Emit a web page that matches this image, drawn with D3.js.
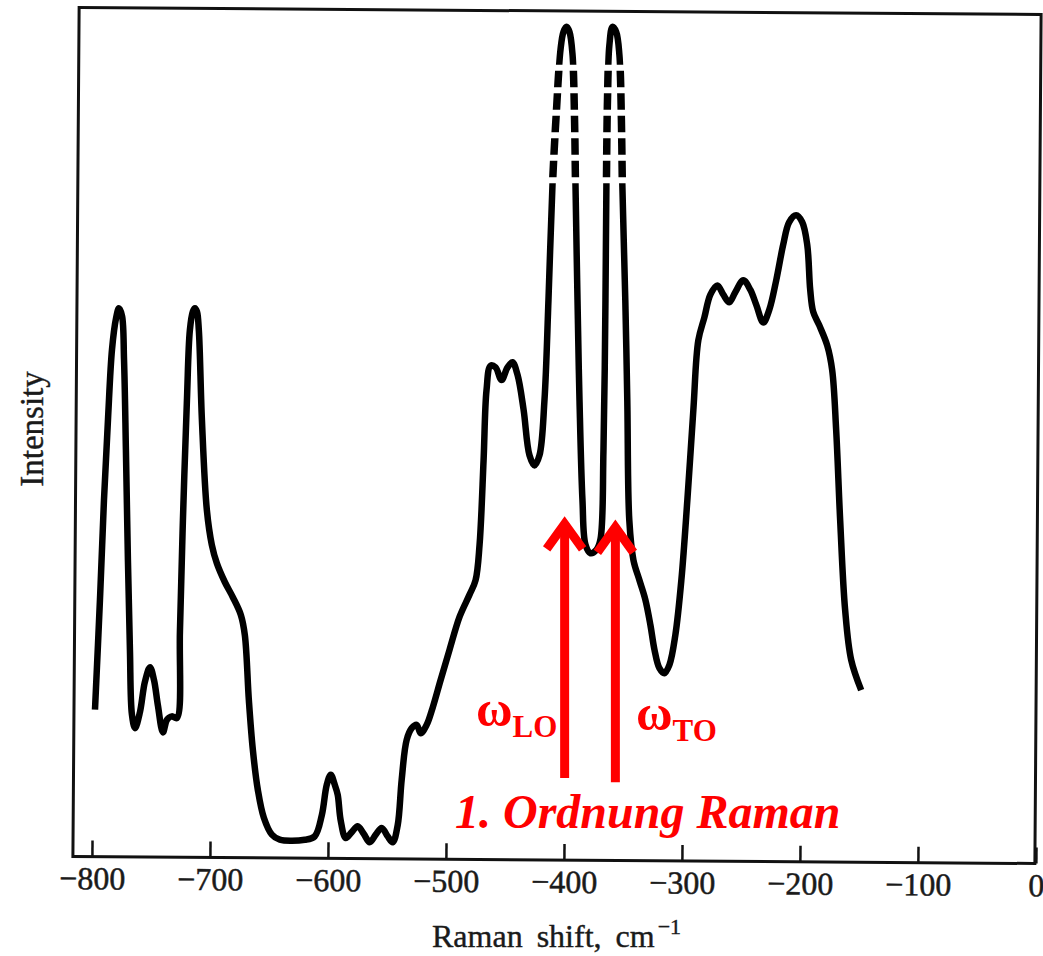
<!DOCTYPE html>
<html lang="de">
<head>
  <meta charset="UTF-8" />
  <title>Raman-Spektrum</title>
  <script src="https://d3js.org/d3.v7.min.js"></script>
  <style>
    body { margin: 0; background: #fff; }
    svg { display: block; background: #fff; }
    .axis text { font-family: "Liberation Serif", serif; font-size: 32px; fill: #1a1a1a; stroke: #1a1a1a; stroke-width: 0.5; }
    .axis line { stroke: #111; stroke-width: 2.5; }
    .label { font-family: "Liberation Serif", serif; fill: #1a1a1a; stroke: #1a1a1a; stroke-width: 0.4; }
    .red-text { font-family: "Liberation Serif", serif; fill: #ff0000; font-weight: bold; }
  </style>
</head>
<body>
  <svg width="1043" height="956"></svg>

  <script>
    // Raman shift (cm^-1) and intensity (arb. units)
    const shift = [
      -800, -795.8, -792.4, -789.0, -785.6, -782.2, -779.7, -777.1, -775.4, -773.8,
      -772.1, -770.4, -768.7, -766.1, -761.9, -757.7, -753.4, -750.0, -746.7, -742.4,
      -739.0, -734.8, -730.6, -728.0, -725.5, -722.1, -719.6, -717.1, -715.3, -713.6,
      -712.0, -709.4, -705.2, -701.0, -696.7, -690.0, -683.2, -676.4, -673.0, -669.6,
      -666.2, -662.0, -656.9, -650.1, -643.4, -622.2, -613.8, -607.8, -603.6, -600.2,
      -596.8, -594.3, -591.8, -587.5, -582.4, -577.4, -572.3, -567.2, -562.1, -557.1,
      -552.0, -547.7, -543.5, -540.1, -535.9, -531.6, -527.4, -524.0, -518.9, -513.9,
      -507.1, -499.5, -491.0, -482.6, -477.5, -474.1, -470.7, -468.2, -464.8, -460.5,
      -455.5, -450.4, -446.2, -441.9, -436.8, -431.8, -427.5, -423.3, -419.1, -415.7,
      -412.3, -408.9, -405.5, -403.0, -400.4, -397.9, -395.3, -393.6, -392.8, -391.1,
      -389.4, -386.9, -384.3, -380.1, -375.1, -371.7, -369.1, -367.4, -366.6, -365.7,
      -364.1, -361.5, -358.3, -355.6, -353.9, -353.1, -350.6, -348.9, -347.2, -343.7,
      -338.6, -333.6, -329.3, -325.9, -321.7, -317.5, -313.2, -308.2, -303.1, -298.0,
      -292.9, -288.7, -283.6, -278.5, -272.6, -267.5, -262.5, -257.4, -250.6, -244.7,
      -239.6, -233.7, -228.6, -222.7, -216.8, -211.7, -205.8, -200.7, -196.4, -193.9,
      -191.4, -186.3, -179.5, -175.3, -171.9, -168.5, -164.3, -159.2, -150.7
    ];
    const intensity = [
      17.8, 30.8, 42.6, 52.1, 60.4, 64.1, 65.3, 64.4, 59.2, 48.5,
      35.5, 24.9, 17.2, 15.6, 17.5, 21.1, 22.8, 21.3, 18.3, 15.1,
      16.6, 17.0, 16.8, 27.2, 40.2, 54.4, 62.7, 64.9, 65.3, 64.9,
      62.7, 52.1, 41.4, 37.3, 35.1, 32.9, 31.1, 29.0, 26.6, 18.9,
      13.0, 8.3, 5.0, 3.0, 2.4, 2.4, 2.8, 5.3, 8.9, 10.1,
      8.9, 7.7, 4.7, 2.6, 3.3, 4.0, 3.1, 2.1, 3.0, 3.8,
      2.8, 2.1, 4.1, 9.5, 14.2, 15.6, 16.0, 15.0, 16.0, 18.0,
      21.3, 24.9, 28.8, 31.4, 33.1, 37.3, 47.3, 55.6, 58.5, 58.3,
      56.8, 58.3, 58.9, 57.4, 53.3, 47.9, 46.7, 47.9, 54.4, 66.3,
      79.9, 88.8, 95.9, 98.0, 98.6, 98.0, 95.3, 87.6, 79.9, 66.3,
      54.4, 42.6, 37.3, 36.3, 36.7, 37.9, 48.5, 66.3, 79.9, 89.9,
      96.4, 98.6, 98.0, 95.3, 87.6, 79.9, 66.3, 54.4, 40.2, 35.5,
      33.1, 30.8, 27.8, 24.9, 22.7, 22.1, 23.1, 26.6, 33.1, 42.6,
      53.3, 61.5, 64.2, 66.9, 68.0, 66.9, 66.0, 67.2, 68.6, 67.5,
      65.7, 63.6, 65.1, 68.6, 72.8, 75.5, 76.3, 75.5, 72.8, 67.5,
      64.9, 63.3, 60.9, 58.0, 50.9, 40.2, 29.6, 23.7, 20.1
    ];
    const tickValues = [-800, -700, -600, -500, -400, -300, -200, -100, 0];

    // the two strong peaks are drawn dashed between these intensities
    const dashedRange = [80.1, 94.1];
    const dashCount = 5;

    // first order Raman: LO and TO positions, arrow from/to (intensity)
    const modes = ["LO", "TO"];
    const modeShift = [-402, -359];
    const arrowFrom = [9.7, 9.2];
    const arrowTo = [40.6, 40.2];

    const svg = d3.select("svg");
    const frame = { left: 76, right: 1038, top: 11, bottom: 860 };

    const x = d3.scaleLinear().domain([-800, 0]).range([95, 1039]);
    const y = d3.scaleLinear().domain([0, 100]).range([860, 15]);

    const data = shift.map((s, i) => ({ s, v: intensity[i] }));

    // clip paths: solid part, and horizontal stripes for the dashed part
    const yTop = y(dashedRange[1]);
    const yBot = y(dashedRange[0]);
    const gap = 6;
    const dashLen = (yBot - yTop - (dashCount + 1) * gap) / dashCount;

    const defs = svg.append("defs");
    defs.append("clipPath").attr("id", "solid")
      .selectAll("rect")
      .data([[0, yTop], [yBot, 956]])
      .enter()
      .append("rect")
      .attr("x", 0)
      .attr("width", 1043)
      .attr("y", d => d[0])
      .attr("height", d => d[1] - d[0]);

    defs.append("clipPath").attr("id", "dashed")
      .selectAll("rect")
      .data(d3.range(dashCount))
      .enter()
      .append("rect")
      .attr("x", 0)
      .attr("width", 1043)
      .attr("y", i => yTop + gap + i * (dashLen + gap))
      .attr("height", dashLen);

    // frame and axis, slightly tilted like the scanned original
    const scan = svg.append("g").attr("transform", "rotate(0.42, 558, 436)");

    scan.append("rect")
      .attr("x", frame.left)
      .attr("y", frame.top)
      .attr("width", frame.right - frame.left)
      .attr("height", frame.bottom - frame.top)
      .attr("fill", "none")
      .attr("stroke", "#111")
      .attr("stroke-width", 3);

    const axis = scan.append("g")
      .attr("class", "axis")
      .attr("transform", `translate(0,${frame.bottom})`)
      .call(d3.axisBottom(x).tickValues(tickValues).tickSize(-16).tickPadding(10));
    axis.select(".domain").remove();

    // spectrum
    const line = d3.line()
      .x(d => x(d.s))
      .y(d => y(d.v))
      .curve(d3.curveCatmullRom.alpha(0.5));

    svg.append("path")
      .datum(data)
      .attr("clip-path", "url(#solid)")
      .attr("d", line)
      .attr("fill", "none")
      .attr("stroke", "#000")
      .attr("stroke-width", 6.5)
      .attr("stroke-linejoin", "round");

    svg.append("path")
      .datum(data)
      .attr("clip-path", "url(#dashed)")
      .attr("d", line)
      .attr("fill", "none")
      .attr("stroke", "#000")
      .attr("stroke-width", 7.5);

    // axis titles
    const xt = svg.append("text")
      .attr("class", "label")
      .attr("x", 432)
      .attr("y", 947)
      .attr("font-size", 32)
      .attr("word-spacing", 6);
    xt.append("tspan").text("Raman shift, cm");
    xt.append("tspan").attr("font-size", 22).attr("dy", -13).attr("dx", 3).text("−1");

    svg.append("text")
      .attr("class", "label")
      .attr("transform", "translate(43,429) rotate(-90)")
      .attr("text-anchor", "middle")
      .attr("font-size", 33)
      .text("Intensity");

    // red annotations
    const arrows = svg.append("g");
    modes.forEach((m, i) => {
      const ax = x(modeShift[i]);
      const y0 = y(arrowFrom[i]);
      const y1 = y(arrowTo[i]);
      arrows.append("line")
        .attr("x1", ax).attr("x2", ax)
        .attr("y1", y0).attr("y2", y1 + 6)
        .attr("stroke", "#ff0000")
        .attr("stroke-width", 9);
      arrows.append("path")
        .attr("d", `M${ax - 18},${y1 + 32} L${ax},${y1 + 7} L${ax + 18},${y1 + 32}`)
        .attr("fill", "none")
        .attr("stroke", "#ff0000")
        .attr("stroke-width", 9)
        .attr("stroke-linejoin", "miter")
        .attr("stroke-linecap", "butt");
    });

    const lo = svg.append("text").attr("class", "red-text").attr("x", 476).attr("y", 726);
    lo.append("tspan").attr("font-size", 50).text("ω");
    lo.append("tspan").attr("font-size", 31).attr("dy", 11).text(modes[0]);

    const to = svg.append("text").attr("class", "red-text").attr("x", 636).attr("y", 730);
    to.append("tspan").attr("font-size", 50).text("ω");
    to.append("tspan").attr("font-size", 31).attr("dy", 11).text(modes[1]);

    svg.append("text")
      .attr("class", "red-text")
      .attr("x", 455)
      .attr("y", 828)
      .attr("font-size", 48)
      .attr("font-style", "italic")
      .text("1. Ordnung Raman");
  </script>
</body>
</html>
